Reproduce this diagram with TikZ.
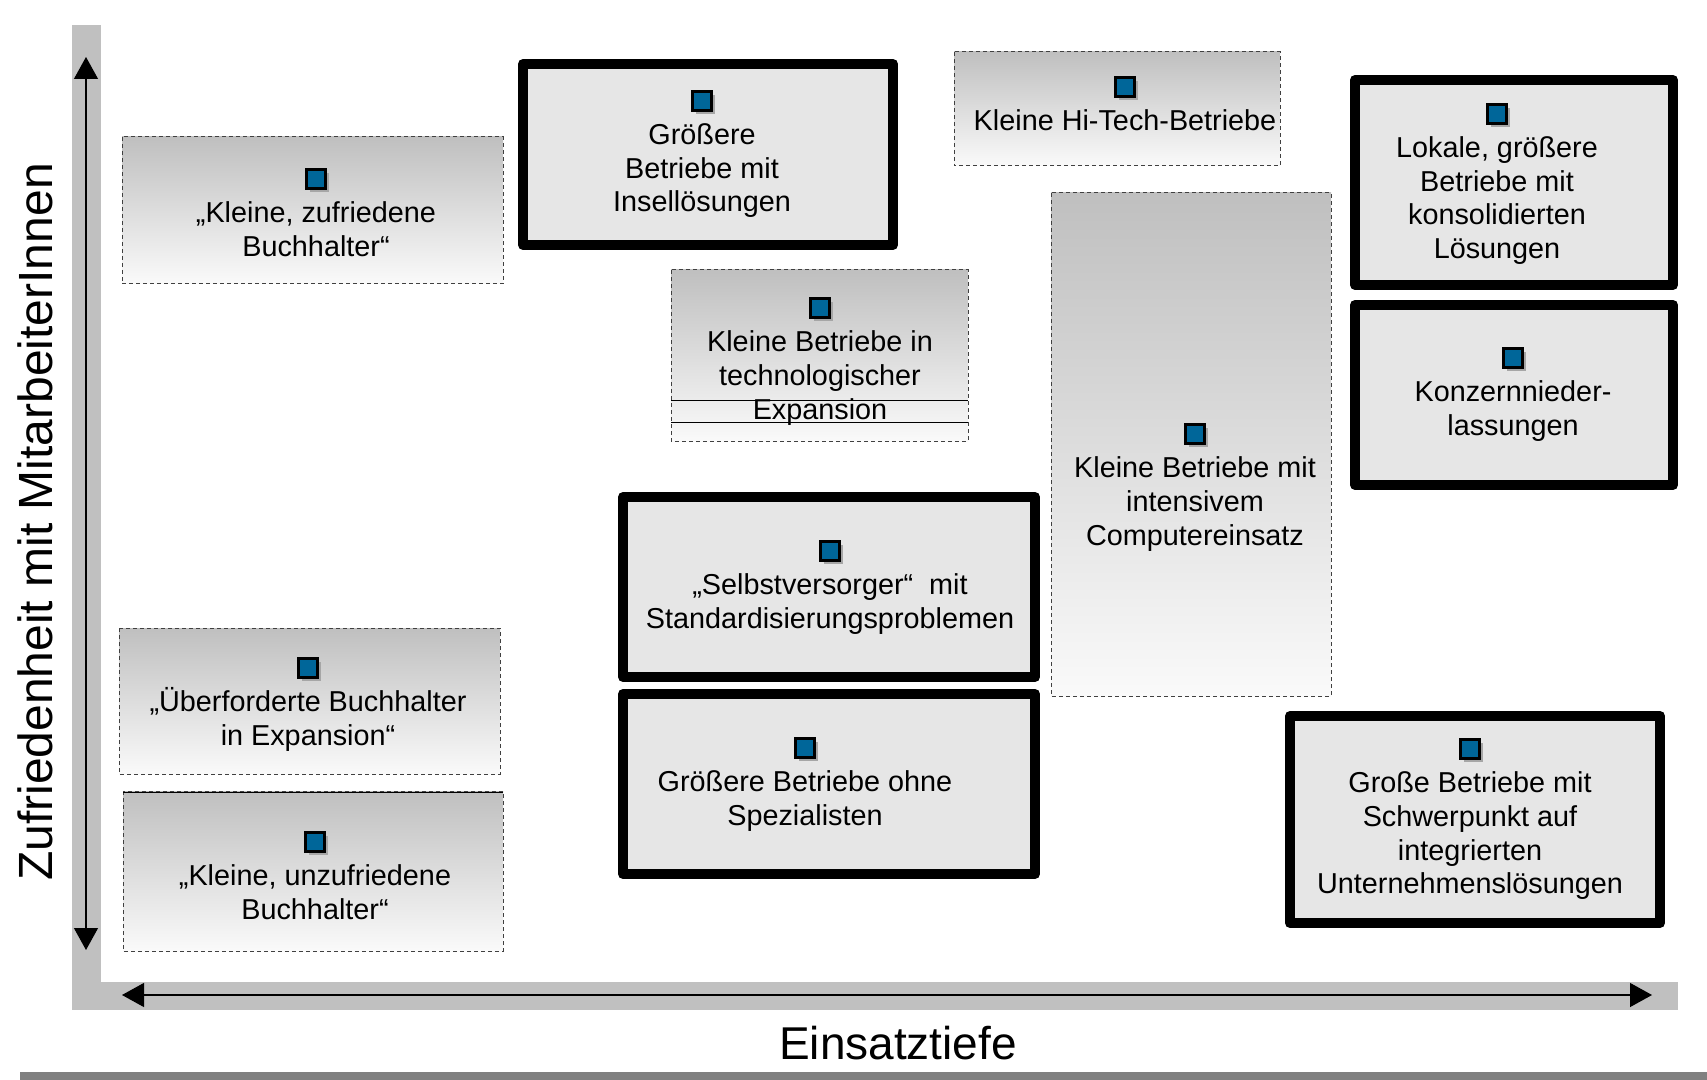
\documentclass[tikz,border=0pt]{standalone}
\usepackage{fontspec}
\setmainfont{Liberation Sans}
\usetikzlibrary{arrows.meta,positioning,shadows}
\definecolor{sqblue}{RGB}{0,102,153}
\definecolor{barGray}{RGB}{192,192,192}
\definecolor{boxGray}{RGB}{230,230,230}

\begin{document}
\begin{tikzpicture}[x=0.5pt,y=-0.5pt,
  every node/.style={font=\fontsize{14.4}{16.9}\selectfont},
  thickbox/.style={draw=black,line width=5pt,line join=round,fill=boxGray},
  dashbox/.style={draw=black!75,line width=0.5pt,dash pattern=on 2pt off 1.5pt,
    top color=gray!50,bottom color=gray!4},
  blob/.style={rectangle,inner sep=0pt,minimum size=9.5pt,fill=sqblue,draw=black,line width=1.1pt,
    general shadow={shadow xshift=1.6pt,shadow yshift=-1.6pt,fill=gray!70},
    general shadow={shadow xshift=0.7pt,shadow yshift=-0.7pt,fill=black}},
  segtext/.style={align=center,inner sep=0pt},
  axisarrow/.style={{Triangle[length=11pt,width=12pt]}-{Triangle[length=11pt,width=12pt]},line width=0.6pt}
]
  \useasboundingbox (0,0) rectangle (1707,1080);

  % helper: blue marker with its text below
  \newcommand{\cluster}[4]{%
    \node[blob] (#1) at (#2,#3) {};
    \node[segtext, below=8.5pt of #1.center] (#1-txt) {\rule{0pt}{13pt}#4};
  }

  %--- axes frame
  \fill[barGray] (72,25) rectangle (101,1010);
  \fill[barGray] (72,982) rectangle (1678,1010);
  \fill[gray] (20,1072) rectangle (1707,1080);

  \coordinate (yTop) at (86,57);
  \coordinate (yBot) at (86,950);
  \coordinate (xLeft) at (122,995);
  \coordinate (xRight) at (1652,995);
  \draw[axisarrow] (yBot) -- (yTop);
  \draw[axisarrow] (xLeft) -- (xRight);

  \node[font=\fontsize{23}{27}\selectfont, anchor=base] (xlabel) at (898,1059) {Einsatztiefe};
  \node[font=\fontsize{24}{28}\selectfont, rotate=90, anchor=base] (ylabel) at (52,522)
    {Zufriedenheit mit MitarbeiterInnen};

  %--- dashed (gradient) segments
  \path[dashbox] (122,137) rectangle (503,284);
  \path[dashbox] (954,52) rectangle (1280,166);
  \path[dashbox] (671,270) rectangle (968,441);
  \path[dashbox] (1051,193) rectangle (1331,696);
  \path[dashbox] (119,628) rectangle (500,774);
  \path[dashbox] (123,791) rectangle (503,951);
  \draw[line width=0.5pt] (671,401) -- (968,401);
  \draw[line width=0.5pt] (671,422) -- (968,422);
  \draw[line width=0.5pt] (123,792) -- (503,792);

  %--- thick framed segments
  \path[thickbox] (523,64) rectangle (893,245);
  \path[thickbox] (1355,80) rectangle (1673,285);
  \path[thickbox] (1355,305) rectangle (1673,485);
  \path[thickbox] (623,497) rectangle (1035,677);
  \path[thickbox] (623,694) rectangle (1035,874);
  \path[thickbox] (1290,716) rectangle (1660,923);

  %--- markers and labels
  \cluster{zufrieden}{316}{179}{„Kleine, zufriedene\\Buchhalter“}
  \cluster{insel}{702}{101}{Größere\\Betriebe mit\\Insellösungen}
  \cluster{hitech}{1125}{87}{Kleine Hi-Tech-Betriebe}
  \cluster{lokal}{1497}{114}{Lokale, größere\\Betriebe mit\\konsolidierten\\Lösungen}
  \cluster{konzern}{1513}{358}{Konzernnieder-\\lassungen}
  \cluster{expansion}{820}{308}{Kleine Betriebe in\\technologischer\\Expansion}
  \cluster{intensiv}{1195}{434}{Kleine Betriebe mit\\intensivem\\Computereinsatz}
  \cluster{selbst}{830}{551}{„Selbstversorger“\ \ mit\\Standardisierungsproblemen}
  \cluster{ohne}{805}{748}{Größere Betriebe ohne\\Spezialisten}
  \cluster{gross}{1470}{749}{Große Betriebe mit\\Schwerpunkt auf\\integrierten\\Unternehmenslösungen}
  \cluster{ueberfordert}{308}{668}{„Überforderte Buchhalter\\in Expansion“}
  \cluster{unzufrieden}{315}{842}{„Kleine, unzufriedene\\Buchhalter“}

\end{tikzpicture}
\end{document}
